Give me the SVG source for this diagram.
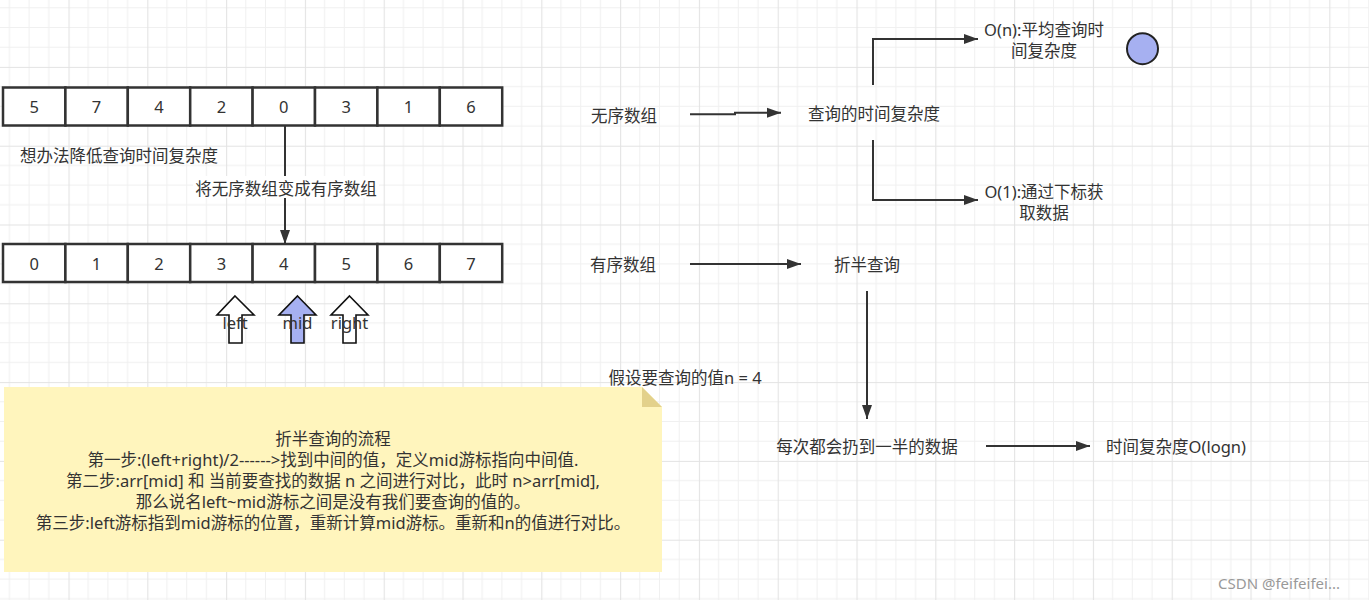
<svg xmlns="http://www.w3.org/2000/svg" width="1369" height="600" viewBox="0 0 1369 600">
<style>
text{font-family:"Noto Sans","Noto Sans CJK SC",sans-serif;font-size:16.5px;fill:#333;dominant-baseline:central}
.c{text-anchor:middle}
.cell{fill:#fff;stroke:#333;stroke-width:2.5}
.ln{fill:none;stroke:#333;stroke-width:2}
.blk{stroke:#111;stroke-width:1.6;fill:#fff}
</style>
<defs>
<pattern id="grid" patternUnits="userSpaceOnUse" x="68.5" y="66.9" width="78.8" height="78.8">
<path d="M19.7 0V78.8M39.4 0V78.8M59.1 0V78.8M0 19.7H78.8M0 39.4H78.8M0 59.1H78.8" stroke="#f0f0f0" stroke-width="1" fill="none"/>
<path d="M0.5 0V78.8M0 0.5H78.8" stroke="#e3e3e3" stroke-width="1.2" fill="none"/>
</pattern>
<marker id="ah" markerUnits="userSpaceOnUse" markerWidth="15" markerHeight="11" refX="14" refY="5.5" orient="auto">
<path d="M0,0.5 L14,5.5 L0,10.5 z" fill="#333"/>
</marker>
</defs>
<rect width="1369" height="600" fill="#fff"/>
<rect width="1369" height="600" fill="url(#grid)"/>

<g id="array-unsorted">
<rect class="cell" x="3" y="87.5" width="62.4" height="38"/>
<rect class="cell" x="65.4" y="87.5" width="62.4" height="38"/>
<rect class="cell" x="127.8" y="87.5" width="62.4" height="38"/>
<rect class="cell" x="190.2" y="87.5" width="62.4" height="38"/>
<rect class="cell" x="252.6" y="87.5" width="62.4" height="38"/>
<rect class="cell" x="315" y="87.5" width="62.4" height="38"/>
<rect class="cell" x="377.4" y="87.5" width="62.4" height="38"/>
<rect class="cell" x="439.8" y="87.5" width="62.4" height="38"/>
<text class="c" x="34.2" y="106.5">5</text>
<text class="c" x="96.6" y="106.5">7</text>
<text class="c" x="159" y="106.5">4</text>
<text class="c" x="221.4" y="106.5">2</text>
<text class="c" x="283.8" y="106.5">0</text>
<text class="c" x="346.2" y="106.5">3</text>
<text class="c" x="408.6" y="106.5">1</text>
<text class="c" x="471" y="106.5">6</text>
</g>

<g id="array-sorted">
<rect class="cell" x="3" y="244" width="62.4" height="38"/>
<rect class="cell" x="65.4" y="244" width="62.4" height="38"/>
<rect class="cell" x="127.8" y="244" width="62.4" height="38"/>
<rect class="cell" x="190.2" y="244" width="62.4" height="38"/>
<rect class="cell" x="252.6" y="244" width="62.4" height="38"/>
<rect class="cell" x="315" y="244" width="62.4" height="38"/>
<rect class="cell" x="377.4" y="244" width="62.4" height="38"/>
<rect class="cell" x="439.8" y="244" width="62.4" height="38"/>
<text class="c" x="34.2" y="263">0</text>
<text class="c" x="96.6" y="263">1</text>
<text class="c" x="159" y="263">2</text>
<text class="c" x="221.4" y="263">3</text>
<text class="c" x="283.8" y="263">4</text>
<text class="c" x="346.2" y="263">5</text>
<text class="c" x="408.6" y="263">6</text>
<text class="c" x="471" y="263">7</text>
</g>

<g id="label-reduce">
<text x="20" y="155">想办法降低查询时间复杂度</text>
</g>

<g id="pointer-left">
<polygon class="blk" points="235,296 254,315 242,315 242,343 229,343 229,315 217,315"/>
<text class="c" x="235" y="322.5">left</text>
</g>
<g id="pointer-mid">
<polygon class="blk" style="fill:#a6b0f1" points="297.5,296 316,315 304,315 304,343 291,343 291,315 279,315"/>
<text class="c" x="297.5" y="322.5">mid</text>
</g>
<g id="pointer-right">
<polygon class="blk" points="349.5,296 368,315 356,315 356,343 343,343 343,315 331,315"/>
<text class="c" x="349.5" y="322.5">right</text>
</g>

<g id="connectors">
<path class="ln" d="M285 126V244" marker-end="url(#ah)"/>
<path class="ln" d="M690 114.3H735V112.7H781" marker-end="url(#ah)"/>
<path class="ln" d="M873 85V39H978" marker-end="url(#ah)"/>
<path class="ln" d="M873 140V200H978" marker-end="url(#ah)"/>
<path class="ln" d="M690 264H801" marker-end="url(#ah)"/>
<path class="ln" d="M867 291V419" marker-end="url(#ah)"/>
<path class="ln" d="M986 446H1090" marker-end="url(#ah)"/>
<rect x="193" y="176" width="186" height="22" fill="#fff"/>
<text class="c" x="286" y="188">将无序数组变成有序数组</text>
</g>

<g id="unsorted-array"><text class="c" x="624" y="115">无序数组</text></g>
<g id="query-complexity"><text class="c" x="874" y="113">查询的时间复杂度</text></g>
<g id="on">
<text class="c" x="1044" y="29">O(n):平均查询时</text>
<text class="c" x="1044" y="50">间复杂度</text>
</g>
<g id="o1">
<text class="c" x="1044" y="191.5">O(1):通过下标获</text>
<text class="c" x="1044" y="212">取数据</text>
</g>
<g id="circle"><circle cx="1142.5" cy="48.7" r="15.5" fill="#a6b0f1" stroke="#222" stroke-width="2"/></g>
<g id="sorted-array"><text class="c" x="623" y="264">有序数组</text></g>
<g id="binary-search"><text class="c" x="867" y="264">折半查询</text></g>
<g id="assume"><text class="c" x="685" y="377">假设要查询的值n = 4</text></g>
<g id="half"><text class="c" x="867" y="446">每次都会扔到一半的数据</text></g>
<g id="logn"><text class="c" x="1176" y="446">时间复杂度O(logn)</text></g>

<g id="note">
<polygon points="4,387 642,387 662,407 662,572 4,572" fill="#fff5bd"/>
<polygon points="642,387 642,407 662,407" fill="#e3d18b"/>
<text class="c" x="333" y="438">折半查询的流程</text>
<text class="c" x="333" y="459">第一步:(left+right)/2------&gt;找到中间的值，定义mid游标指向中间值.</text>
<text class="c" x="333" y="480">第二步:arr[mid] 和 当前要查找的数据 n 之间进行对比，此时 n&gt;arr[mid],</text>
<text class="c" x="333" y="501">那么说名left~mid游标之间是没有我们要查询的值的。</text>
<text class="c" x="333" y="522">第三步:left游标指到mid游标的位置，重新计算mid游标。重新和n的值进行对比。</text>
</g>

<g id="watermark"><text x="1218" y="583" style="font-size:15px;fill:#999">CSDN @feifeifei...</text></g>
</svg>
